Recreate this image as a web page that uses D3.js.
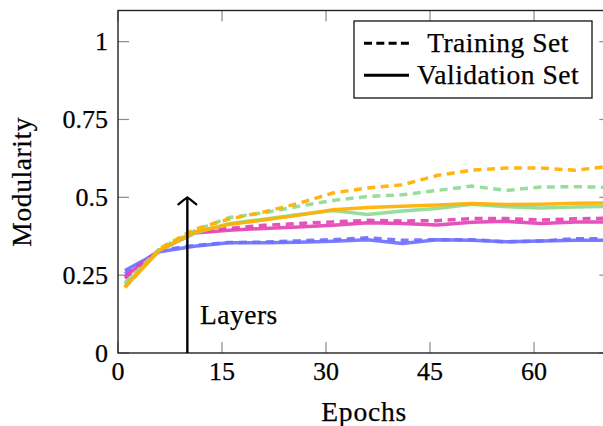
<!DOCTYPE html>
<html>
<head>
<meta charset="utf-8">
<script src="https://cdn.jsdelivr.net/npm/d3@7"></script>
<style>
  html, body { margin: 0; padding: 0; background: #fff; }
  svg { display: block; }
  text { font-family: "Liberation Serif", "Times New Roman", serif; fill: #000; stroke: #000; stroke-width: 0.25px; }
</style>
</head>
<body>
<svg id="chart" width="603" height="426"></svg>
<script>
// ---------------- data ----------------
const epochs = [1, 6, 11, 16, 21, 26, 31, 36, 41, 46, 51, 56, 61, 66, 71];

const blueTrain   = [0.255, 0.330, 0.345, 0.355, 0.356, 0.360, 0.364, 0.370, 0.362, 0.364, 0.364, 0.357, 0.360, 0.367, 0.367];
const blueVal     = [0.265, 0.325, 0.343, 0.354, 0.354, 0.356, 0.359, 0.364, 0.352, 0.364, 0.362, 0.357, 0.360, 0.362, 0.362];
const pinkTrain   = [0.240, 0.330, 0.388, 0.400, 0.410, 0.416, 0.421, 0.426, 0.424, 0.425, 0.432, 0.432, 0.427, 0.431, 0.433];
const pinkVal     = [0.245, 0.330, 0.385, 0.394, 0.400, 0.405, 0.410, 0.418, 0.416, 0.411, 0.420, 0.423, 0.416, 0.421, 0.421];
const greenTrain  = [0.225, 0.335, 0.392, 0.435, 0.450, 0.471, 0.490, 0.503, 0.508, 0.522, 0.536, 0.522, 0.533, 0.534, 0.532];
const greenVal    = [0.220, 0.330, 0.385, 0.415, 0.430, 0.445, 0.458, 0.445, 0.456, 0.464, 0.478, 0.470, 0.466, 0.469, 0.471];
const orangeTrain = [0.210, 0.335, 0.397, 0.430, 0.453, 0.480, 0.514, 0.530, 0.540, 0.570, 0.587, 0.594, 0.594, 0.587, 0.600];
const orangeVal   = [0.212, 0.330, 0.388, 0.413, 0.427, 0.442, 0.460, 0.467, 0.471, 0.475, 0.480, 0.477, 0.478, 0.481, 0.482];

const xTicks = [0, 15, 30, 45, 60];
const yTicks = [0, 0.25, 0.5, 0.75, 1];
const yTickLabels = ["0", "0.25", "0.5", "0.75", "1"];

const legendLabels = ["Training Set", "Validation Set"];
const xLabel = "Epochs";
const yLabel = "Modularity";
const annotation = "Layers";
const arrowEpoch = 10, arrowTop = 0.5;

const seriesList = [
  { values: blueTrain,   color: "#7070ff", dashed: true },
  { values: blueVal,     color: "#7070ff", dashed: false },
  { values: pinkTrain,   color: "#e443b3", dashed: true },
  { values: pinkVal,     color: "#e443b3", dashed: false },
  { values: greenTrain,  color: "#8ddb93", dashed: true },
  { values: greenVal,    color: "#8ddb93", dashed: false },
  { values: orangeTrain, color: "#ffb000", dashed: true },
  { values: orangeVal,   color: "#ffb000", dashed: false }
];

// ---------------- layout ----------------
const svg = d3.select("#chart");
const L = 118, R = 610.3, T = 10.5, B = 353;
const x = d3.scaleLinear().domain([0, 71]).range([L, R]);
const y = d3.scaleLinear().domain([0, 1.1]).range([B, T]);
const FS = 26;      // digits
const FSW = 27.5;   // words
const tickLen = 11;

svg.append("defs").append("clipPath").attr("id", "clip")
  .append("rect").attr("x", L).attr("y", T).attr("width", R - L).attr("height", B - T);

// ticks (inward, on all four sides)
const tickG = svg.append("g").attr("stroke", "#8a8a8a").attr("stroke-width", 1.2);
xTicks.forEach(v => {
  tickG.append("line").attr("x1", x(v)).attr("x2", x(v)).attr("y1", B).attr("y2", B - tickLen);
  tickG.append("line").attr("x1", x(v)).attr("x2", x(v)).attr("y1", T).attr("y2", T + tickLen);
});
yTicks.forEach(v => {
  tickG.append("line").attr("x1", L).attr("x2", L + tickLen).attr("y1", y(v)).attr("y2", y(v));
  tickG.append("line").attr("x1", R).attr("x2", R - tickLen).attr("y1", y(v)).attr("y2", y(v));
});

// series
const line = d3.line().x((d, i) => x(epochs[i])).y(d => y(d));
const plotG = svg.append("g").attr("clip-path", "url(#clip)");
seriesList.forEach(s => {
  plotG.append("path")
    .attr("d", line(s.values))
    .attr("fill", "none")
    .attr("stroke", s.color)
    .attr("stroke-width", 3.5)
    .attr("stroke-opacity", 0.92)
    .attr("stroke-linejoin", "round")
    .attr("stroke-dasharray", s.dashed ? "8,5.5" : null);
});

// frame
svg.append("rect").attr("x", L).attr("y", T).attr("width", R - L).attr("height", B - T)
  .attr("fill", "none").attr("stroke", "#222").attr("stroke-width", 1.4);

// arrow annotation
const ax = x(arrowEpoch), ay = y(arrowTop);
svg.append("line").attr("x1", ax).attr("x2", ax).attr("y1", y(0)).attr("y2", ay + 1)
  .attr("stroke", "#000").attr("stroke-width", 2.4);
svg.append("path")
  .attr("d", `M${ax - 9},${ay + 7} Q${ax - 3},${ay + 2} ${ax},${ay} Q${ax + 3},${ay + 2} ${ax + 9},${ay + 7}`)
  .attr("fill", "none").attr("stroke", "#000").attr("stroke-width", 2.2).attr("stroke-linecap", "round");
svg.append("text").attr("x", 200).attr("y", 323.5).attr("font-size", FSW)
  .attr("letter-spacing", 0.5).text(annotation);

// tick labels
svg.append("g").selectAll("text").data(xTicks).join("text")
  .attr("x", d => x(d)).attr("y", 380).attr("text-anchor", "middle").attr("font-size", FS)
  .text(d => String(d));
svg.append("g").selectAll("text").data(yTicks).join("text")
  .attr("x", 108).attr("y", d => y(d) + 8.7).attr("text-anchor", "end").attr("font-size", FS)
  .text((d, i) => yTickLabels[i]);

// axis labels
svg.append("text").attr("x", (L + R) / 2).attr("y", 421).attr("text-anchor", "middle")
  .attr("font-size", FSW).attr("letter-spacing", 0.8).text(xLabel);
svg.append("text").attr("transform", `translate(31,${(T + B) / 2}) rotate(-90)`)
  .attr("text-anchor", "middle").attr("font-size", FSW).attr("letter-spacing", 0.6).text(yLabel);

// legend
const lg = svg.append("g");
lg.append("rect").attr("x", 354).attr("y", 21).attr("width", 238).attr("height", 77)
  .attr("fill", "#fff").attr("stroke", "#111").attr("stroke-width", 1.3);
const rows = [43.3, 75.3];
lg.append("line").attr("x1", 364).attr("x2", 409).attr("y1", rows[0]).attr("y2", rows[0])
  .attr("stroke", "#000").attr("stroke-width", 3).attr("stroke-dasharray", "8,4.3");
lg.append("line").attr("x1", 364).attr("x2", 409).attr("y1", rows[1]).attr("y2", rows[1])
  .attr("stroke", "#000").attr("stroke-width", 3);
legendLabels.forEach((t, i) => {
  lg.append("text").attr("x", 498).attr("y", rows[i] + 8.5).attr("text-anchor", "middle")
    .attr("font-size", FSW).attr("letter-spacing", 0.5).text(t);
});
</script>
</body>
</html>
